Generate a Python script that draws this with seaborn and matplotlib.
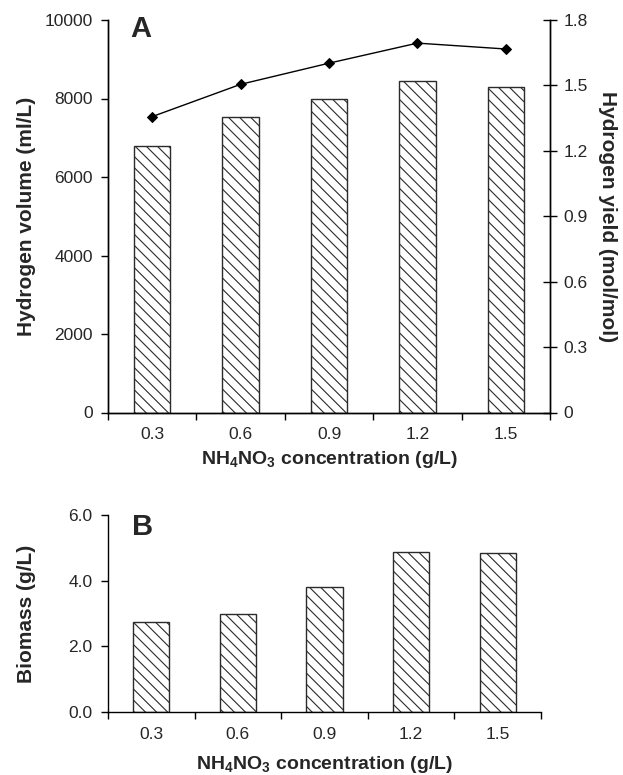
import numpy as np
import pandas as pd
import matplotlib
matplotlib.use("Agg")
import matplotlib.pyplot as plt
import seaborn as sns

# NH4NO3 concentration (g/L) and measured responses
conc = ["0.3", "0.6", "0.9", "1.2", "1.5"]
h2_volume = [6780, 7520, 8000, 8440, 8290]      # ml/L
h2_yield = [1.357, 1.505, 1.602, 1.694, 1.667]  # mol/mol
biomass = [2.75, 3.00, 3.80, 4.88, 4.83]        # g/L

yield_ticks = [0, 0.3, 0.6, 0.9, 1.2, 1.5, 1.8]
yield_labels = ["0", "0.3", "0.6", "0.9", "1.2", "1.5", "1.8"]

sns.set_style("white")
plt.rcParams["font.family"] = ["Liberation Sans", "DejaVu Sans"]
plt.rcParams["mathtext.fontset"] = "custom"
plt.rcParams["mathtext.rm"] = "Liberation Sans:bold"
plt.rcParams["mathtext.bf"] = "Liberation Sans:bold"
plt.rcParams["mathtext.default"] = "bf"
plt.rcParams["hatch.linewidth"] = 0.8

EDGE = "#2b2b2b"
XLABEL = r"NH$_4$NO$_3$ concentration (g/L)"
XLABEL_SIZE = 14
YLABEL_SIZE = 15
TICK_SIZE = 12.5

df_top = pd.DataFrame({"conc": conc, "volume": h2_volume, "yield": h2_yield})
df_bot = pd.DataFrame({"conc": conc, "biomass": biomass})

fig = plt.figure(figsize=(6.23, 7.75), dpi=100)
W, H = 623, 775
ax = fig.add_axes([108 / W, 1 - 412.5 / H, (550 - 108) / W, (412.5 - 20) / H])
axb = fig.add_axes([108 / W, 1 - 712 / H, (541 - 108) / W, (712 - 515) / H])


def style_bars(a):
    for p in a.patches:
        p.set_facecolor("white")
        p.set_edgecolor(EDGE)
        p.set_linewidth(1.0)
        p.set_hatch("\\\\\\")


def style_xaxis(a, labelpad):
    n = len(conc)
    a.set_xlim(-0.5, n - 0.5)
    a.set_xticks(np.arange(-0.5, n, 1.0))
    a.set_xticklabels([])
    a.set_xticks(np.arange(n), minor=True)
    a.set_xticklabels(conc, minor=True)
    a.tick_params(axis="x", which="major", direction="out", length=5,
                  width=1, color="black", bottom=True)
    a.tick_params(axis="x", which="minor", length=0, pad=10.5,
                  labelsize=TICK_SIZE)
    a.set_xlabel(XLABEL, fontsize=XLABEL_SIZE, fontweight="bold",
                 labelpad=labelpad)


# ---- Panel A: hydrogen volume (bars) and hydrogen yield (line) ----
sns.barplot(data=df_top, x="conc", y="volume", ax=ax, width=0.41,
            color="white", edgecolor=EDGE, linewidth=1.0, saturation=1)
style_bars(ax)
style_xaxis(ax, 5)
ax.set_ylim(0, 10000)
ax.set_yticks(np.arange(0, 10001, 2000))
ax.tick_params(axis="y", direction="out", length=5, width=1, color="black",
               left=True, labelsize=TICK_SIZE, pad=6)
ax.set_ylabel("Hydrogen volume (ml/L)", fontsize=YLABEL_SIZE,
              fontweight="bold")
ax.yaxis.set_label_coords(-0.163, 0.5)
for s in ["left", "bottom", "right"]:
    ax.spines[s].set_color("black")
    ax.spines[s].set_linewidth(1.0)
ax.spines["top"].set_visible(False)
ax.text(0.05, 1.012, "A", transform=ax.transAxes, fontsize=21,
        fontweight="bold", va="top", ha="left")

ax2 = ax.twinx()
sns.lineplot(x=np.arange(len(conc)), y=h2_yield, ax=ax2, color="black",
             linewidth=1.0, marker="D", markersize=5, markeredgecolor="black")
ax2.set_ylim(0, 1.8)
ax2.set_yticks(yield_ticks)
ax2.set_yticklabels(yield_labels)
ax2.tick_params(axis="y", direction="inout", length=10, width=1,
                color="black", right=True, labelsize=TICK_SIZE, pad=4.5)
ax2.set_ylabel("Hydrogen yield (mol/mol)", fontsize=YLABEL_SIZE,
               fontweight="bold", rotation=270, va="center")
ax2.yaxis.set_label_coords(1.129, 0.5)
for s in ["left", "bottom", "right"]:
    ax2.spines[s].set_color("black")
    ax2.spines[s].set_linewidth(1.0)
ax2.spines["top"].set_visible(False)

# ---- Panel B: biomass ----
sns.barplot(data=df_bot, x="conc", y="biomass", ax=axb, width=0.42,
            color="white", edgecolor=EDGE, linewidth=1.0, saturation=1)
style_bars(axb)
style_xaxis(axb, 9)
axb.set_ylim(0, 6)
axb.set_yticks([0, 2, 4, 6])
axb.set_yticklabels(["0.0", "2.0", "4.0", "6.0"])
axb.tick_params(axis="y", direction="out", length=5, width=1, color="black",
                left=True, labelsize=TICK_SIZE, pad=6)
axb.set_ylabel("Biomass (g/L)", fontsize=YLABEL_SIZE, fontweight="bold")
axb.yaxis.set_label_coords(-0.166, 0.5)
for s in ["left", "bottom"]:
    axb.spines[s].set_color("black")
    axb.spines[s].set_linewidth(1.0)
axb.spines["top"].set_visible(False)
axb.spines["right"].set_visible(False)
axb.text(0.055, 1.01, "B", transform=axb.transAxes, fontsize=21,
         fontweight="bold", va="top", ha="left")

fig.savefig("out.png", dpi=100)
